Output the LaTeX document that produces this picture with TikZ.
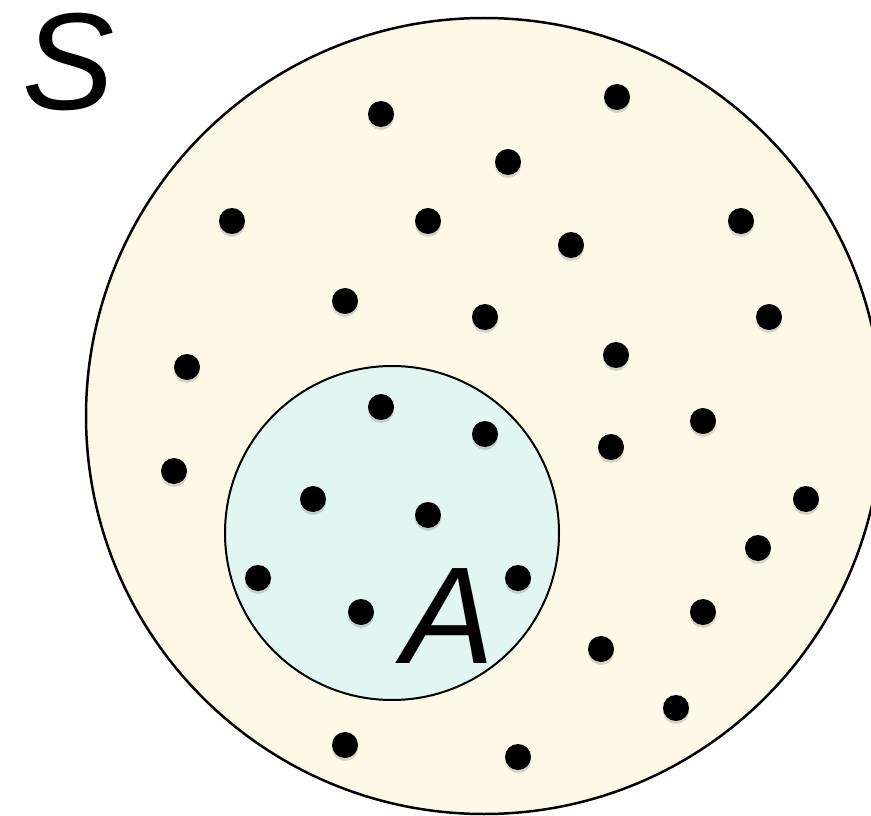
\documentclass[tikz,border=0pt]{standalone}
\usepackage{fontspec}
\setsansfont{Liberation Sans}
\usetikzlibrary{shadows}
\definecolor{cSpace}{RGB}{254,249,231}
\definecolor{cEvent}{RGB}{225,246,241}

\begin{document}
\begin{tikzpicture}[x=1pt, y=-1pt,
    setlabel/.style={font=\sffamily\itshape\fontsize{138}{138}\selectfont, inner sep=0pt},
    dot/.style={circle, fill=black, inner sep=0pt, minimum size=26pt,
      drop shadow={shadow xshift=0pt, shadow yshift=-3pt, opacity=0.25, fill=black!60}}]
  \useasboundingbox (0,0) rectangle (871,816);
  % sample space S
  \filldraw[fill=cSpace, draw=black, line width=2.5pt] (484,416) circle (398pt);
  % event A
  \filldraw[fill=cEvent, draw=black, line width=2pt] (392,533) circle (167pt);
  % outcomes
  \foreach \px/\py [count=\i] in {381/114, 617/97, 508/162, 232/221, 428/221,
      571/245, 741/221, 345/301, 485/317, 769/317, 187/367, 616/355,
      381/407, 485/434, 703/421, 611/447, 174/471, 313/499, 428/515,
      806/499, 758/548, 258/578, 518/578, 361/612, 703/612, 601/649,
      676/708, 345/745, 518/757}{%
    \node[dot] (o\i) at (\px,\py) {};
  }
  % labels
  \node[setlabel, anchor=base west] (lblS) at (22,110) {S};
  \node[setlabel, anchor=base west] (lblA) at (402,663) {A};
\end{tikzpicture}
\end{document}
